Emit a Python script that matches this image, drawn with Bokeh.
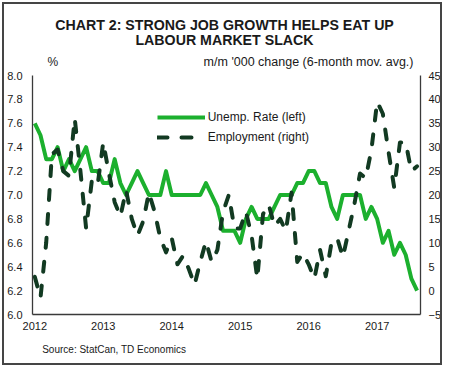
from bokeh.plotting import figure
from bokeh.models import (Range1d, LinearAxis, FixedTicker, Label, Legend, LegendItem,
                          ColumnDataSource, NumeralTickFormatter, Title)
from bokeh.embed import file_html
from bokeh.resources import INLINE

# ---------------- data ----------------
months = [f"{y}-{m:02d}" for y in range(2012, 2018) for m in range(1, 13)][:68]

unemp_rate = [7.6, 7.5, 7.3, 7.3, 7.4, 7.2, 7.3, 7.2, 7.3, 7.4, 7.2, 7.2,
              7.1, 7.1, 7.3, 7.1, 7.0, 7.1, 7.2, 7.1, 7.0, 7.0, 7.0, 7.2,
              7.0, 7.0, 7.0, 7.0, 7.0, 7.0, 7.1, 7.0, 6.9, 6.7, 6.7, 6.7,
              6.6, 6.8, 6.9, 6.8, 6.8, 6.8, 6.9, 7.0, 7.0, 7.0, 7.1, 7.1,
              7.2, 7.2, 7.1, 7.1, 6.9, 6.8, 7.0, 7.0, 7.0, 7.0, 6.8, 6.9,
              6.8, 6.6, 6.7, 6.5, 6.6, 6.5, 6.3, 6.2]

employment = [2.9, -1.5, 10.0, 28.5, 29.5, 25.0, 24.0, 36.0, 25.0, 13.0, 23.0, 22.0,
              31.0, 24.5, 18.5, 15.5, 21.0, 15.0, 11.5, 14.5, 20.5, 16.5, 11.0, 8.0,
              11.0, 5.5, 7.3, 4.5, 1.2, 6.0, 10.3, 6.0, 8.5, 16.5, 20.0, 13.0,
              13.0, 16.5, 11.5, 2.5, 16.0, 18.0, 13.5, 15.0, 12.5, 20.5, 6.0, 7.8,
              5.5, 2.5, 8.5, 3.0, 10.0, 11.0, 7.0, 12.5, 18.0, 24.5, 23.5, 29.5,
              39.5, 37.0, 29.0, 21.5, 31.0, 31.0, 25.0, 26.0]

year_labels = ["2012", "2013", "2014", "2015", "2016", "2017"]
left_ticks = [6.0, 6.2, 6.4, 6.6, 6.8, 7.0, 7.2, 7.4, 7.6, 7.8, 8.0]
right_ticks = [-5, 0, 5, 10, 15, 20, 25, 30, 35, 40, 45]

series_names = ["Unemp. Rate (left)", "Employment (right)"]
title_lines = ["CHART 2: STRONG JOB GROWTH HELPS EAT UP", "LABOUR MARKET SLACK"]
left_unit = "%"
right_unit = "m/m '000 change (6-month mov. avg.)"
source_note = "Source: StatCan, TD Economics"

# ---------------- styles ----------------
GREEN = "#1cb02e"
DARK = "#123a22"
AXIS = "#3a3a3a"
TEXT = "#1a1a1a"
FONT = "Liberation Sans"

x = list(range(len(months)))
src = ColumnDataSource(dict(x=x, unemp=unemp_rate, emp=employment))

FRAME_H = 310          # frame height in px (6.0 .. 8.0 occupies 239 px of it)
AX_H = 239
left_lo, left_hi = left_ticks[0], left_ticks[-1]
right_lo, right_hi = right_ticks[0], right_ticks[-1]
left_top = left_lo + (left_hi - left_lo) * FRAME_H / AX_H
right_top = right_lo + (right_hi - right_lo) * FRAME_H / AX_H

p = figure(width=440, height=363, output_backend="svg", toolbar_location=None,
           x_range=Range1d(-0.4, len(months) - 0.4), y_range=Range1d(left_lo, left_top),
           min_border_left=28, min_border_right=21, min_border_top=0,
           min_border_bottom=53)
p.styles = {"position": "relative", "left": "2px", "top": "2px",
            "border": "2px solid #454545"}
p.extra_y_ranges = {"emp": Range1d(right_lo, right_top)}
p.xgrid.visible = False
p.ygrid.visible = False
p.outline_line_color = None
p.background_fill_color = "white"
p.border_fill_color = "white"

def style_axis(ax):
    ax.axis_line_color = AXIS
    ax.axis_line_width = 1.3
    ax.major_tick_line_color = None
    ax.minor_tick_line_color = None
    ax.major_tick_out = 0
    ax.major_tick_in = 0
    ax.major_label_text_font = FONT
    ax.major_label_text_font_size = "11px"
    ax.major_label_text_color = TEXT

# left axis
p.yaxis.ticker = FixedTicker(ticks=left_ticks)
p.yaxis.formatter = NumeralTickFormatter(format="0.0")
p.yaxis.bounds = (left_lo, left_hi)
style_axis(p.yaxis[0])
p.yaxis.major_label_standoff = 10

# bottom axis
p.xaxis.ticker = FixedTicker(ticks=[x[months.index(f"{y}-01")] for y in year_labels])
p.xaxis.major_label_overrides = {x[months.index(f"{y}-01")]: y for y in year_labels}
style_axis(p.xaxis[0])
p.xaxis.major_label_standoff = 7

# right axis
rax = LinearAxis(y_range_name="emp", ticker=FixedTicker(ticks=right_ticks),
                 bounds=(right_lo, right_hi))
style_axis(rax)
rax.major_label_standoff = 8
p.add_layout(rax, "right")

g = p.line("x", "unemp", source=src, line_color=GREEN, line_width=4, line_join="round")
d = p.line("x", "emp", source=src, y_range_name="emp", line_color=DARK, line_width=4,
           line_dash="10 14", line_cap="round", line_join="round")

legend = Legend(items=[LegendItem(label=series_names[0], renderers=[g]),
                       LegendItem(label=series_names[1], renderers=[d])],
                location=(124.7, 166.7), padding=0, margin=0, spacing=0,
                glyph_width=48, glyph_height=20, label_height=20, label_standoff=3,
                label_text_font=FONT, label_text_font_size="12px",
                label_text_color=TEXT, border_line_color=None,
                background_fill_alpha=0)
p.add_layout(legend)

def add_text(txt, xs, ys, size, align="left", bold=False):
    p.add_layout(Label(x=xs, y=ys, x_units="screen", y_units="screen", text=txt,
                       text_font=FONT, text_font_size=size, text_align=align,
                       text_baseline="middle", text_color=TEXT,
                       text_font_style="bold" if bold else "normal"))

add_text(title_lines[0], 192, 290, "14.2px", "center", True)
add_text(title_lines[1], 192, 275, "14.2px", "center", True)
add_text(left_unit, 15, 252.5, "12px")
add_text(right_unit, 381, 252.5, "12.5px", "right")

p.add_layout(Title(text=source_note, align="left", offset=9.7, standoff=19,
                   text_font=FONT, text_font_size="10px", text_font_style="normal",
                   text_color=TEXT), "below")

open("out.html", "w").write(file_html(p, INLINE))
